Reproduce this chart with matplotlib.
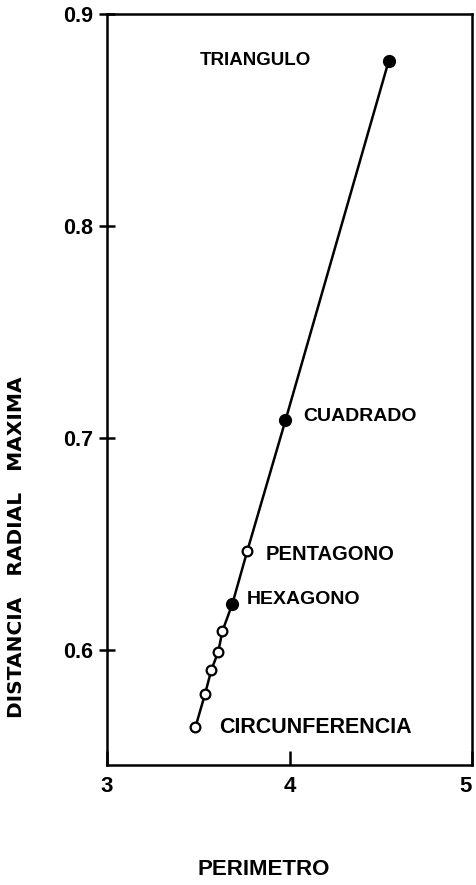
import matplotlib
matplotlib.use("Agg")
import matplotlib.pyplot as plt
import matplotlib.transforms as mtransforms

# Data
perimetro = [4.544, 3.978, 3.769, 3.687, 3.632, 3.610, 3.571, 3.538, 3.484]
distancia = [0.878, 0.7085, 0.647, 0.622, 0.609, 0.5995, 0.5906, 0.5797, 0.5637]
relleno = [True, True, False, True, False, False, False, False, False]

etiquetas = ["TRIANGULO", "CUADRADO", "PENTAGONO", "HEXAGONO", "CIRCUNFERENCIA"]
etiqueta_idx = [0, 1, 2, 3, 8]

xticks = [3, 4, 5]
yticks = [0.6, 0.7, 0.8, 0.9]
yticklabels = ["0.6", "0.7", "0.8", "0.9"]

plt.rcParams['font.family'] = ['Liberation Sans', 'DejaVu Sans']
plt.rcParams['font.weight'] = 'bold'

fig = plt.figure(figsize=(4.76, 8.85), dpi=100)
ax = fig.add_axes([107/476, (885-765)/885, (472-107)/476, (765-14)/885])

ax.plot(perimetro, distancia, color='black', lw=1.8, zorder=2)
for x, y, f in zip(perimetro, distancia, relleno):
    if f:
        ax.plot(x, y, 'o', ms=8.5, mfc='black', mec='black', zorder=3)
    else:
        ax.plot(x, y, 'o', ms=7, mfc='white', mec='black', mew=1.6, zorder=3)

# label offsets (in data units), alignment, size
offs = {
    "TRIANGULO": (-0.73, 0.0, 'center', 13.5),
    "CUADRADO": (0.10, 0.002, 'left', 14),
    "PENTAGONO": (0.10, -0.002, 'left', 14.5),
    "HEXAGONO": (0.08, 0.002, 'left', 14),
    "CIRCUNFERENCIA": (0.13, 0.0, 'left', 15.5),
}
for name, i in zip(etiquetas, etiqueta_idx):
    dx, dy, ha, fs = offs[name]
    ax.text(perimetro[i] + dx, distancia[i] + dy, name, ha=ha, va='center',
            fontsize=fs, fontweight='bold')

ax.set_xlim(3, 5)
ax.set_ylim(0.546, 0.9)
ax.set_xticks(xticks)
ax.set_yticks(yticks)
ax.set_yticklabels(yticklabels)
ax.tick_params(axis='y', direction='inout', length=12, width=1.8, labelsize=15.5, pad=4)
ax.tick_params(axis='x', direction='in', length=10, width=1.8, labelsize=16, pad=8)
for s in ax.spines.values():
    s.set_linewidth(1.8)

# keep the last x tick label inside the canvas
last = ax.get_xticklabels()[-1]
last.set_transform(last.get_transform() +
                   mtransforms.ScaledTranslation(-5/72, 0, fig.dpi_scale_trans))

ax.set_ylabel("DISTANCIA   RADIAL   MAXIMA", fontsize=14.5, fontweight='bold',
              family=['DejaVu Sans'])
ax.yaxis.set_label_coords(-0.222, 0.29)
ax.set_xlabel("PERIMETRO", fontsize=16, fontweight='bold')
ax.xaxis.set_label_coords(0.43, -0.125)

fig.savefig("out.png", dpi=100)
